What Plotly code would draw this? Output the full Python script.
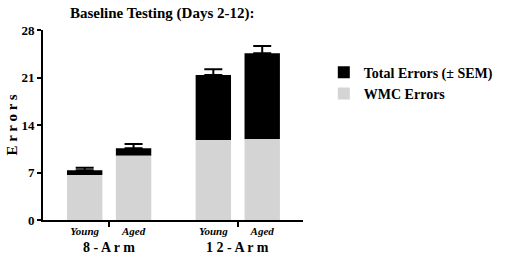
import plotly.graph_objects as go

groups = ["8 - A r m", "1 2 - A r m"]
ages = ["Young", "Aged"]
wmc_errors = [6.63, 9.48, 11.79, 11.94]
total_errors = [7.35, 10.57, 21.37, 24.56]
sem = [0.35, 0.63, 0.85, 1.08]
y_ticks = [0, 7, 14, 21, 28]

FONT = "Liberation Serif, Times New Roman, serif"

offset = 0.19
xs = []
xlabels = []
for gi, g in enumerate(groups):
    for ai, a in enumerate(ages):
        xs.append(gi + (-offset if ai == 0 else offset))
        xlabels.append(a)

upper = [t - w for t, w in zip(total_errors, wmc_errors)]

fig = go.Figure()
fig.add_trace(go.Bar(
    x=xs, y=upper, base=wmc_errors, name="Total Errors (± SEM)",
    marker=dict(color="#000000", line=dict(width=0)), width=0.275,
    error_y=dict(type="data", array=sem, arrayminus=[0] * len(sem), symmetric=False,
                 color="#000000", thickness=2, width=9),
))
fig.add_trace(go.Bar(
    x=xs, y=wmc_errors, name="WMC Errors",
    marker=dict(color="#d4d4d4", line=dict(width=0)), width=0.275,
))

for gi, g in enumerate(groups):
    fig.add_annotation(x=gi, y=-0.145, xref="x", yref="paper", text=g, showarrow=False,
                       font=dict(family=FONT, size=14, color="#000", weight="bold"),
                       yanchor="middle")

fig.update_layout(
    width=510, height=258,
    margin=dict(l=43, r=180, t=30, b=38),
    plot_bgcolor="white", paper_bgcolor="white",
    barmode="overlay",
    showlegend=True,
    title=dict(text="<b>Baseline Testing (Days 2-12):</b>", x=0.318, xanchor="center",
               y=0.95, yanchor="middle",
               font=dict(family=FONT, size=15, color="#000")),
    legend=dict(x=1.08, y=0.86, xanchor="left", yanchor="top", traceorder="normal",
                font=dict(family=FONT, size=14, color="#000", weight="bold"),
                bgcolor="rgba(0,0,0,0)", itemwidth=30, tracegroupgap=0),
    xaxis=dict(range=[-0.514, 1.507], tickvals=xs, ticktext=xlabels, ticks="",
               automargin=False,
               showgrid=False, zeroline=False, showline=True, linecolor="#000", linewidth=2,
               tickfont=dict(family=FONT, size=11, color="#000", weight="bold", style="italic"),
               minor=dict(tickvals=[0, 1], ticks="outside", ticklen=5, tickwidth=2, tickcolor="#000")),
    yaxis=dict(range=[0, 28], tickvals=y_ticks, ticks="outside", ticklen=4, tickwidth=2,
               automargin=False,
               tickcolor="#000", showgrid=False, zeroline=False, showline=True,
               linecolor="#000", linewidth=2,
               tickfont=dict(family=FONT, size=13, color="#000", weight="bold"),
               title=dict(text="E r r o r s", standoff=0,
                          font=dict(family=FONT, size=15, color="#000", weight="bold"))),
)

fig.write_html("out.html", config={"displayModeBar": False},
               post_script="document.body.style.margin='0';")
